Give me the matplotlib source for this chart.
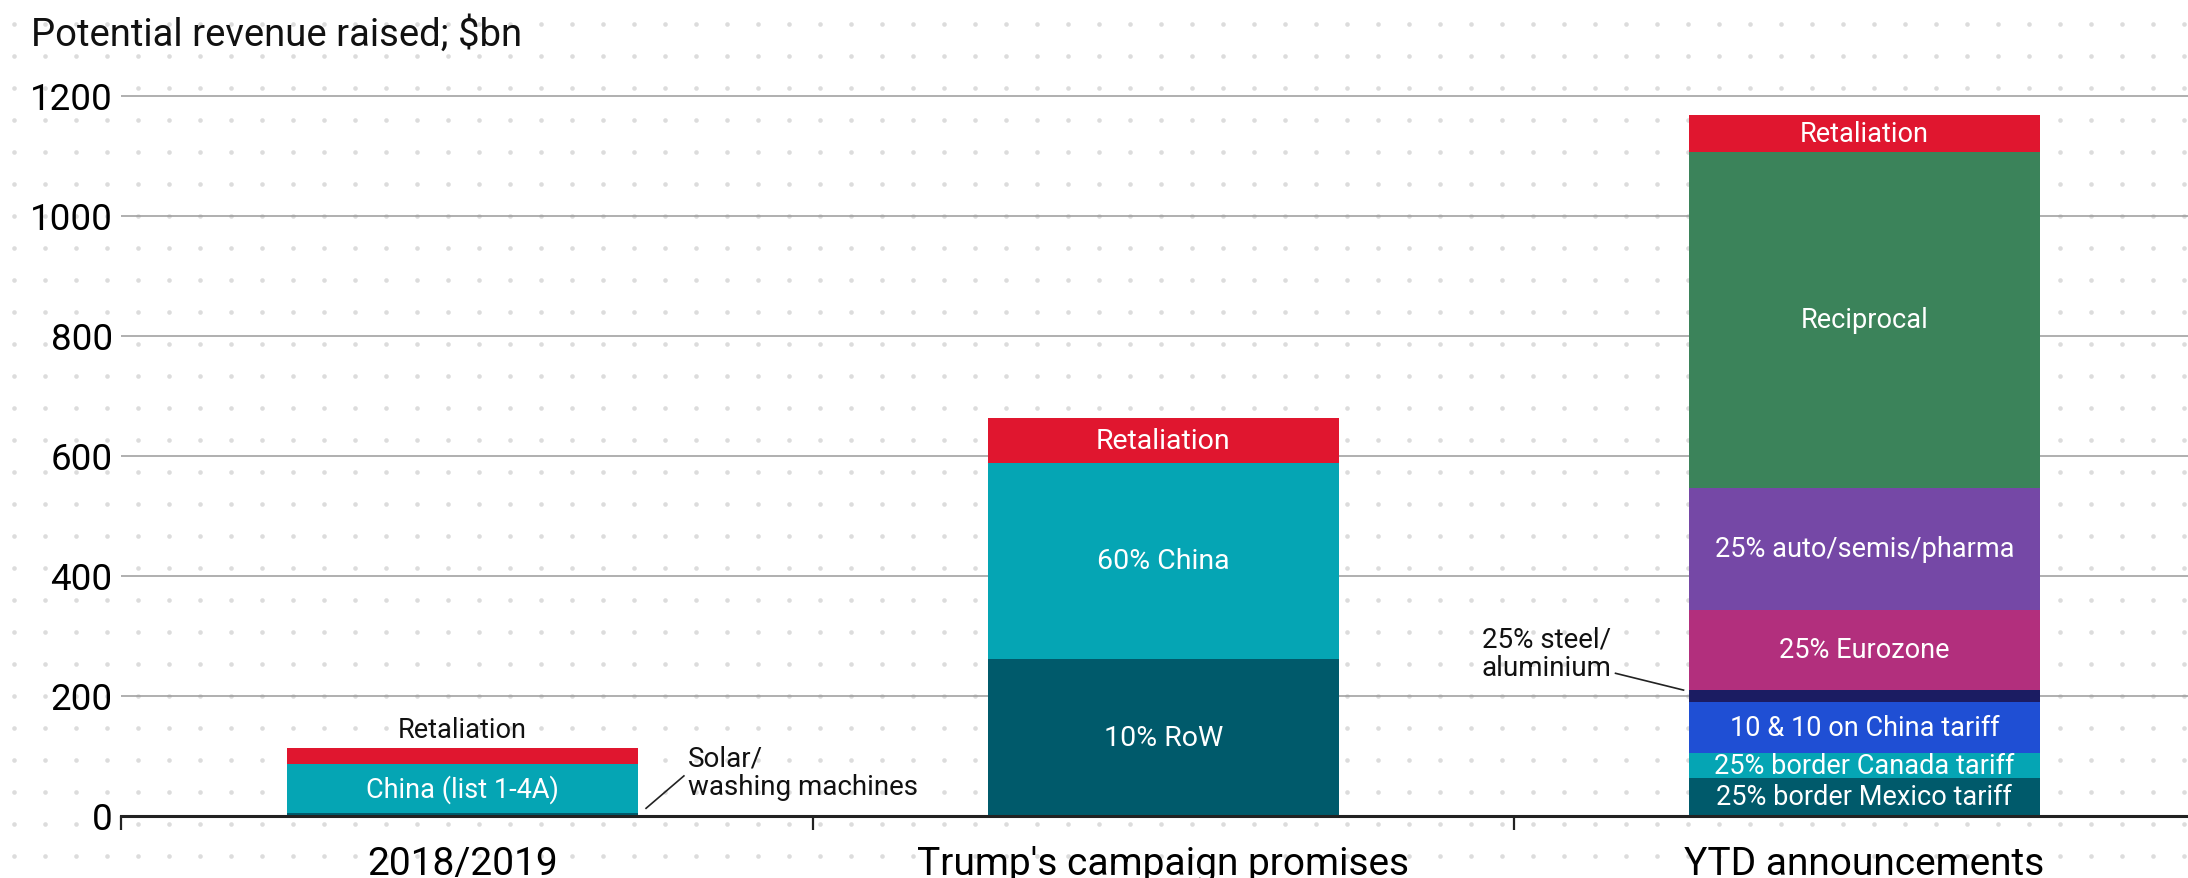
import numpy as np
import matplotlib.pyplot as plt

plt.rcParams['font.family'] = ['Roboto', 'DejaVu Sans']
NARROW = ['Liberation Sans Narrow', 'Roboto', 'DejaVu Sans']

categories = ["2018/2019", "Trump's campaign promises", "YTD announcements"]

# stacked segments, bottom to top ($bn)
labels_2018 = ["Solar/\nwashing machines", "China (list 1-4A)", "Retaliation"]
values_2018 = [5, 81, 27]

labels_campaign = ["10% RoW", "60% China", "Retaliation"]
values_campaign = [261, 327, 75]

labels_ytd = ["25% border Mexico tariff", "25% border Canada tariff",
              "10 & 10 on China tariff", "25% steel/\naluminium",
              "25% Eurozone", "25% auto/semis/pharma", "Reciprocal",
              "Retaliation"]
values_ytd = [62, 42, 85, 20, 134, 203, 560, 62]

RED = '#e0162f'
TEAL = '#05a5b4'
DTEAL = '#005a6b'
colors_2018 = [DTEAL, TEAL, RED]
colors_campaign = [DTEAL, TEAL, RED]
colors_ytd = [DTEAL, TEAL, '#1f4fd4', '#1b1c62', '#b22f7d', '#7548a6',
              '#3b835a', RED]

stacks = [(labels_2018, values_2018, colors_2018, NARROW, 19.5),
          (labels_campaign, values_campaign, colors_campaign, ['Roboto'], 20.5),
          (labels_ytd, values_ytd, colors_ytd, NARROW, 19.5)]

W, H = 2188, 879
fig = plt.figure(figsize=(W / 100, H / 100), dpi=100)

# dotted paper background
bg = fig.add_axes([0, 0, 1, 1], zorder=0)
bg.set_xlim(0, W)
bg.set_ylim(H, 0)
bg.axis('off')
dx, dy = np.meshgrid(np.arange(14.3, W, 31), np.arange(25.3, H, 32))
bg.scatter(dx.ravel(), dy.ravel(), s=11, color='#dcdcdc', linewidths=0)

ax = fig.add_axes([121 / W, 62.5 / H, 1 - 121 / W, 780 / H], zorder=1)
ax.patch.set_alpha(0)

bar_w = 0.5
x = np.arange(len(categories))
for i, (labs, vals, cols, fam, fs) in enumerate(stacks):
    bottom = 0
    for lab, v, c in zip(labs, vals, cols):
        ax.bar(x[i], v, bottom=bottom, width=bar_w, color=c, zorder=3)
        mid = bottom + v / 2
        if lab.startswith('Solar'):
            # leader from just right of the bar
            x0 = x[i] + bar_w / 2
            ax.plot([x0 + 0.012, x0 + 0.066], [bottom + v + 7, bottom + v + 61],
                    color='#222222', lw=1.2, zorder=4)
            ax.text(x0 + 0.072, bottom + v + 67, lab, ha='left', va='center',
                    fontsize=20, color='#111111', linespacing=1.05, zorder=4)
        elif lab.startswith('25% steel'):
            x0 = x[i] - bar_w / 2
            ax.plot([x0 - 0.105, x0 - 0.008], [bottom + v + 28, bottom + v],
                    color='#222222', lw=1.2, zorder=4)
            ax.text(x0 - 0.296, bottom + v + 61, lab, ha='left', va='center',
                    fontsize=20, color='#111111', linespacing=1.05, zorder=4)
        elif i == 0 and lab == 'Retaliation':
            ax.text(x[i], bottom + v + 31, lab, ha='center', va='center',
                    fontsize=fs, family=fam, color='#111111', zorder=4)
        else:
            ax.text(x[i], mid, lab, ha='center', va='center', fontsize=fs,
                    family=fam, color='white', zorder=4)
        bottom += v

xl = -0.487
ax.set_xlim(xl, xl + (W - 121) / 701)
ax.set_ylim(0, 1300)

ax.set_yticks([0, 200, 400, 600, 800, 1000, 1200])
ax.tick_params(axis='y', length=0, pad=6, labelsize=26.5)
ax.yaxis.grid(True, color='#9a9a9a', lw=1.1, zorder=1)

ax.set_xticks(x)
ax.set_xticklabels(categories)
ax.set_xticks([xl, 0.5, 1.5], minor=True)
ax.tick_params(axis='x', which='major', length=0, pad=21, labelsize=28)
ax.tick_params(axis='x', which='minor', length=10, width=1.6,
               color='#222222')

for s in ['left', 'right', 'top']:
    ax.spines[s].set_visible(False)
ax.spines['bottom'].set_linewidth(2.2)
ax.spines['bottom'].set_color('#222222')
ax.spines['bottom'].set_zorder(5)

fig.text(31 / W, 1 - 35 / H, 'Potential revenue raised; $bn', fontsize=27.5,
         ha='left', va='center', color='#111111')

fig.savefig('out.png', dpi=100)
